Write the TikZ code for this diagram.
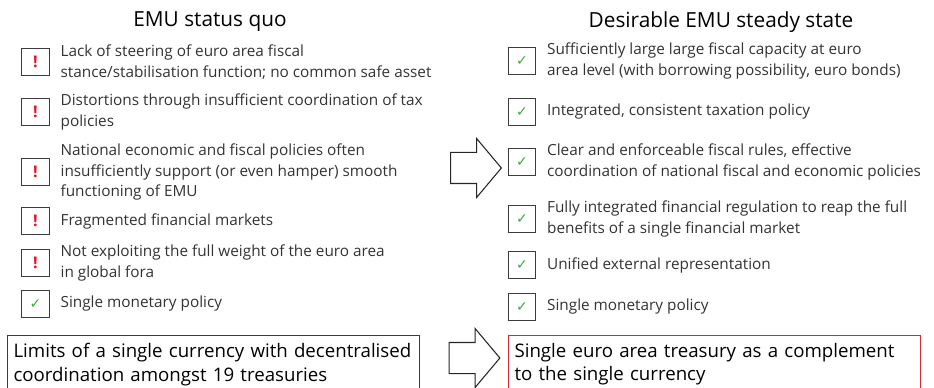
\documentclass[tikz,border=0pt]{standalone}
\usepackage{fontspec}
\setmainfont{Open Sans}
\newfontfamily\symfont{DejaVu Sans}
\usetikzlibrary{positioning, shapes.arrows}
\definecolor{frame}{RGB}{60,60,60}
\definecolor{alarm}{RGB}{226,18,36}
\definecolor{okgreen}{RGB}{58,172,58}
\definecolor{treasury}{RGB}{214,40,56}
\tikzstyle{icon} = [rectangle, draw=frame, line width=0.8pt, minimum size=20.5pt, inner sep=0pt]
\tikzstyle{item} = [inner sep=0pt, align=left, text=black!80, font=\fontsize{11.5}{15.4}\selectfont]
\tikzstyle{heading} = [font=\fontsize{15.6}{18}\selectfont]
\tikzstyle{summary} = [rectangle, draw=frame, line width=0.8pt, anchor=north west, text width=300pt, inner xsep=4.5pt, inner ysep=6pt, align=left, font=\fontsize{14}{17.4}\selectfont]
\tikzstyle{bigarrow} = [single arrow, draw=black!85, line width=0.8pt, minimum height=38pt, minimum width=43.5pt, single arrow head extend=10.5pt, single arrow tip angle=100, inner xsep=0pt, inner ysep=11.25pt]
\newcommand{\warn}{\textcolor{alarm}{\fontsize{12}{12}\selectfont\bfseries !}}
\newcommand{\ok}{\textcolor{okgreen}{\symfont\fontsize{10.5}{10.5}\selectfont ✓}}

\begin{document}
\begin{tikzpicture}[x=0.75pt, y=-0.75pt]
\useasboundingbox (0,0) rectangle (934,388);

%Nodes
\node (quo) [heading] at (210,22) {EMU status quo};
\node (steady) [heading] at (721,22) {Desirable EMU steady state};

\node (q1) [icon] at (35.5,62) {\warn};
\node (q2) [icon] at (35.5,112) {\warn};
\node (q3) [icon] at (35.5,172) {\warn};
\node (q4) [icon] at (35.5,221) {\warn};
\node (q5) [icon] at (35.5,263) {\warn};
\node (q6) [icon] at (35.5,304) {\ok};
\node (tq1) [item, right=8pt of q1] {Lack of steering of euro area fiscal\\stance/stabilisation function; no common safe asset};
\node (tq2) [item, right=8pt of q2] {Distortions through insufficient coordination of tax\\policies};
\node (tq3) [item, right=8pt of q3] {National economic and fiscal policies often\\insufficiently support (or even hamper) smooth\\functioning of EMU};
\node (tq4) [item, right=8pt of q4] {Fragmented financial markets};
\node (tq5) [item, right=8pt of q5] {Not exploiting the full weight of the euro area\\in global fora};
\node (tq6) [item, right=8pt of q6] {Single monetary policy};

\node (s1) [icon] at (522,61) {\ok};
\node (s2) [icon] at (522,112) {\ok};
\node (s3) [icon] at (522,162) {\ok};
\node (s4) [icon] at (522,219) {\ok};
\node (s5) [icon] at (522,265) {\ok};
\node (s6) [icon] at (522,307) {\ok};
\node (ts1) [item, right=8pt of s1] {Sufficiently large large fiscal capacity at euro\\area level (with borrowing possibility, euro bonds)};
\node (ts2) [item, right=8pt of s2] {Integrated, consistent taxation policy};
\node (ts3) [item, right=8pt of s3] {Clear and enforceable fiscal rules, effective\\coordination of national fiscal and economic policies};
\node (ts4) [item, right=8pt of s4] {Fully integrated financial regulation to reap the full\\benefits of a single financial market};
\node (ts5) [item, right=8pt of s5] {Unified external representation};
\node (ts6) [item, right=8pt of s6] {Single monetary policy};

\node (limits) [summary] at (7,335) {Limits of a single currency with decentralised\\coordination amongst 19 treasuries};
\node (single) [summary, draw=treasury] at (508,335) {Single euro area treasury as a complement\\to the single currency};

%Arrows
\node (move) [bigarrow] at (469.5,168) {};
\node (shift) [bigarrow] at (468,358) {};

\end{tikzpicture}
\end{document}
